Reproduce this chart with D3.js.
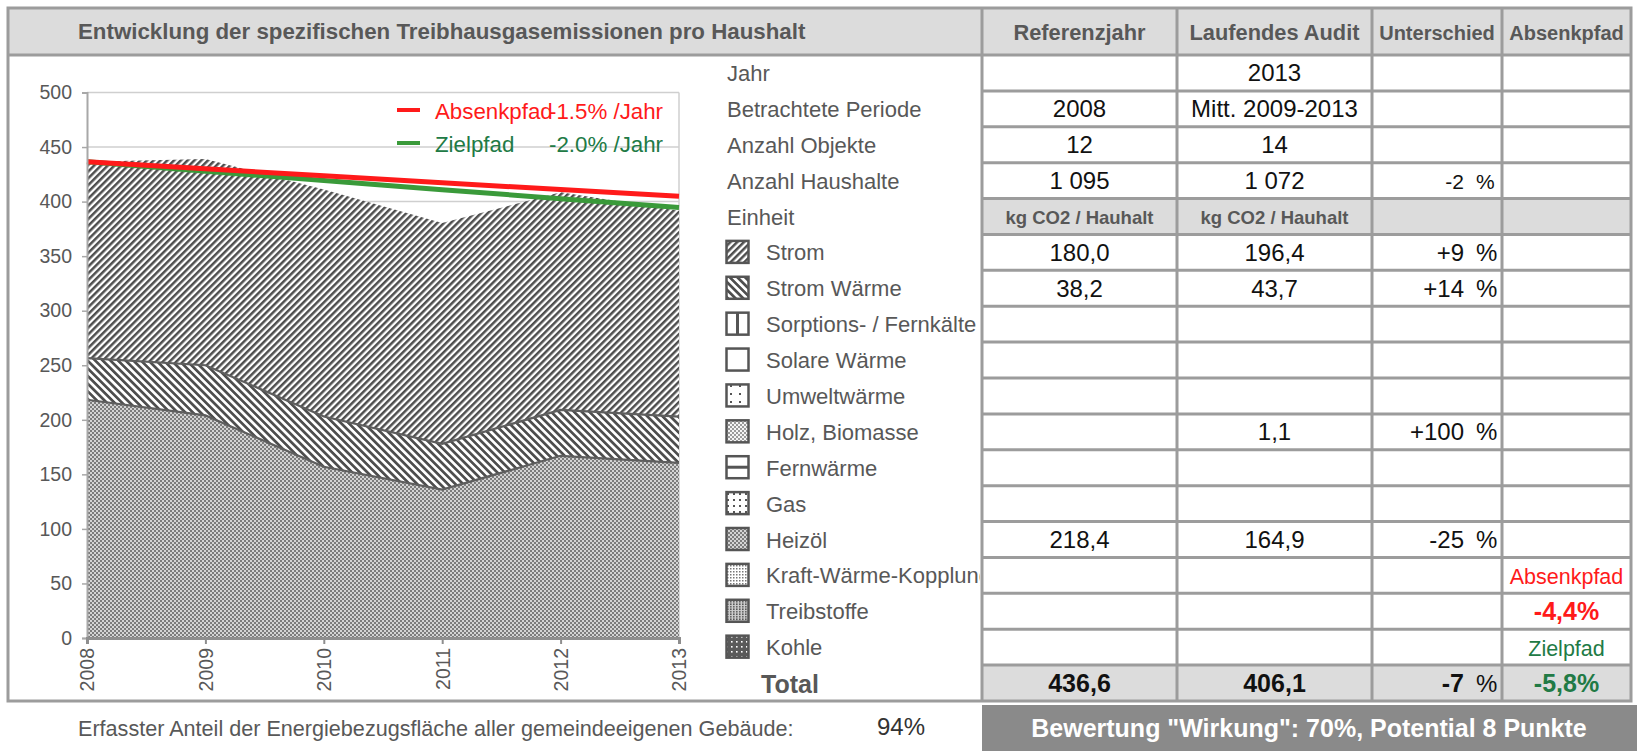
<!DOCTYPE html>
<html><head><meta charset="utf-8">
<script src="https://cdn.jsdelivr.net/npm/d3@7"></script>
<style>
body{margin:0;background:#fff}
svg{display:block}
text{font-family:"Liberation Sans",Arial,sans-serif}
</style>
</head><body>
<svg id="c" width="1637" height="751"></svg>
<script>
// ---------- data ----------
const years = [2008, 2009, 2010, 2011, 2012, 2013];
const heizoel = [218.4, 204, 157, 136, 167, 160.5];
const stromWaerme = [38.2, 46, 46, 42, 42, 42.5];
const strom = [180.0, 189, 208, 202.5, 199.5, 188.5];
const absenkpfad = [436.6, 430.1, 423.6, 417.3, 411.0, 404.8];
const zielpfad = [436.6, 427.9, 419.3, 410.9, 402.7, 394.6];
const yTicks = [0, 50, 100, 150, 200, 250, 300, 350, 400, 450, 500];

const title = "Entwicklung der spezifischen Treibhausgasemissionen pro Haushalt";
const headers = ["Referenzjahr", "Laufendes Audit", "Unterschied", "Absenkpfad"];
const rowLabels = ["Jahr", "Betrachtete Periode", "Anzahl Objekte", "Anzahl Haushalte", "Einheit",
  "Strom", "Strom Wärme", "Sorptions- / Fernkälte", "Solare Wärme", "Umweltwärme", "Holz, Biomasse",
  "Fernwärme", "Gas", "Heizöl", "Kraft-Wärme-Kopplung", "Treibstoffe", "Kohle", "Total"];
const iconKeys = [null, null, null, null, null,
  "strom", "sw", "sorp", "solar", "umwelt", "holz", "fern", "gas", "heiz", "kwk", "treib", "kohle", null];
const refCol = ["", "2008", "12", "1 095", "kg CO2 / Hauhalt", "180,0", "38,2", "", "", "", "", "", "", "218,4", "", "", "", "436,6"];
const auditCol = ["2013", "Mitt. 2009-2013", "14", "1 072", "kg CO2 / Hauhalt", "196,4", "43,7", "", "", "", "1,1", "", "", "164,9", "", "", "", "406,1"];
const diffCol = ["", "", "", "-2", "", "+9", "+14", "", "", "", "+100", "", "", "-25", "", "", "", "-7"];
const pathCol = ["", "", "", "", "", "", "", "", "", "", "", "", "", "", "Absenkpfad", "-4,4%", "Zielpfad", "-5,8%"];
const legendNames = ["Absenkpfad", "Zielpfad"];
const legendRates = ["-1.5% /Jahr", "-2.0% /Jahr"];
const footText = "Erfasster Anteil der Energiebezugsfläche aller gemeindeeigenen Gebäude:";
const footPct = "94%";
const ratingText = 'Bewertung "Wirkung": 70%, Potential 8 Punkte';

// ---------- layout ----------
const svg = d3.select("#c");
const OX0 = 8, OY0 = 8, OX1 = 1631, OY1 = 701;
const colX = [982, 1177, 1372, 1502, 1631];
const headB = 55;
const nRows = rowLabels.length;
const rowH = (OY1 - headB) / nRows;
const rowTop = i => headB + i * rowH;
const LINE = "#9c9c9c", LW = 3;
const RED = "#ff1a1a", GREEN_T = "#217a45", GREEN_L = "#3a9a3a";
const GRAYTXT = "#585858";

const defs = svg.append("defs");
function stripe(id, angle, period, w, col) {
  const p = defs.append("pattern").attr("id", id).attr("patternUnits", "userSpaceOnUse")
    .attr("width", period).attr("height", period).attr("patternTransform", `rotate(${angle})`);
  p.append("rect").attr("width", period).attr("height", period).attr("fill", "#fff");
  p.append("rect").attr("width", w).attr("height", period).attr("fill", col);
}
stripe("pStrom", 45, 4.8, 2.5, "#4e4e4e");
stripe("pSW", -45, 5.4, 2.7, "#4e4e4e");
function checker(id, c, dark, light) {
  const p = defs.append("pattern").attr("id", id).attr("patternUnits", "userSpaceOnUse")
    .attr("width", 2 * c).attr("height", 2 * c);
  p.append("rect").attr("width", 2 * c).attr("height", 2 * c).attr("fill", light);
  p.append("rect").attr("width", c).attr("height", c).attr("fill", dark);
  p.append("rect").attr("x", c).attr("y", c).attr("width", c).attr("height", c).attr("fill", dark);
}
checker("pHeiz", 2, "#7c7c7c", "#d4d4d4");
checker("pHolz", 2, "#9a9a9a", "#f4f4f4");
function dots(id, px, py, r, dot, bg) {
  const p = defs.append("pattern").attr("id", id).attr("patternUnits", "userSpaceOnUse")
    .attr("width", px).attr("height", py);
  p.append("rect").attr("width", px).attr("height", py).attr("fill", bg);
  p.append("rect").attr("x", 1).attr("y", 1).attr("width", r).attr("height", r).attr("fill", dot);
}
dots("pUmwelt", 9, 8, 2, "#555", "#fff");
dots("pGas", 6, 6, 2, "#555", "#fff");
dots("pKwk", 3, 3, 1.5, "#777", "#fff");
dots("pTreib", 3, 2.5, 1.6, "#555", "#ccc");
dots("pKohle", 5, 5, 1.6, "#fff", "#5a5a5a");

// ---------- backgrounds ----------
svg.append("rect").attr("x", OX0).attr("y", OY0).attr("width", OX1 - OX0).attr("height", headB - OY0).attr("fill", "#dcdcdc");
[4, 17].forEach(r => {
  svg.append("rect").attr("x", colX[0]).attr("y", rowTop(r)).attr("width", colX[4] - colX[0]).attr("height", rowH).attr("fill", "#dcdcdc");
});

// ---------- chart ----------
const x = d3.scalePoint().domain(years).range([87, 679]);
const y = d3.scaleLinear().domain([0, 500]).range([638, 92.5]);
const plot = svg.append("g");
plot.selectAll("line.grid").data(yTicks.filter(v => v > 0)).join("line")
  .attr("x1", x(years[0])).attr("x2", x(years[5])).attr("y1", d => y(d)).attr("y2", d => y(d))
  .attr("stroke", "#cfcfcf").attr("stroke-width", 1.5);
plot.append("line").attr("x1", x(years[5])).attr("x2", x(years[5])).attr("y1", y(500)).attr("y2", y(0))
  .attr("stroke", "#cfcfcf").attr("stroke-width", 1.5);

const rows = years.map((yr, i) => ({ year: yr, heiz: heizoel[i], sw: stromWaerme[i], strom: strom[i] }));
const stack = d3.stack().keys(["heiz", "sw", "strom"]);
const series = stack(rows);
const fills = { heiz: "url(#pHeiz)", sw: "url(#pSW)", strom: "url(#pStrom)" };
const area = d3.area().x(d => x(d.data.year)).y0(d => y(d[0])).y1(d => y(d[1]));
plot.selectAll("path.area").data(series).join("path")
  .attr("d", area).attr("fill", d => fills[d.key]);
const topLine = d3.line().x(d => x(d.data.year)).y(d => y(d[1]));
plot.selectAll("path.edge").data(series.slice(0, 2)).join("path")
  .attr("d", topLine).attr("fill", "none").attr("stroke", "#5e5e5e").attr("stroke-width", 2.2);

const pl = d3.line().x((d, i) => x(years[i])).y(d => y(d));
plot.append("path").attr("d", pl(zielpfad)).attr("fill", "none").attr("stroke", GREEN_L).attr("stroke-width", 5);
plot.append("path").attr("d", pl(absenkpfad)).attr("fill", "none").attr("stroke", RED).attr("stroke-width", 5);

// axes
const yAxis = plot.append("g").attr("transform", `translate(${x(years[0])},0)`)
  .call(d3.axisLeft(y).tickValues(yTicks).tickSize(5).tickPadding(10));
yAxis.select(".domain").attr("stroke", "#a8a8a8").attr("stroke-width", 2);
yAxis.selectAll(".tick line").attr("stroke", "#a8a8a8").attr("stroke-width", 1.5);
yAxis.selectAll(".tick text").attr("font-size", 19.5).attr("fill", GRAYTXT)
  .attr("font-family", '"Liberation Sans",Arial,sans-serif');
const xAxis = plot.append("g").attr("transform", `translate(0,${y(0)})`)
  .call(d3.axisBottom(x).tickSize(6).tickFormat(d3.format("d")));
xAxis.select(".domain").attr("stroke", "#8e8e8e").attr("stroke-width", 3);
xAxis.selectAll(".tick line").attr("stroke", "#8e8e8e").attr("stroke-width", 2);
xAxis.selectAll(".tick text").attr("font-size", 19.5).attr("fill", GRAYTXT)
  .attr("font-family", '"Liberation Sans",Arial,sans-serif')
  .attr("text-anchor", "end").attr("transform", "rotate(-90)")
  .attr("x", -10).attr("y", 0).attr("dy", "0.35em");

// legend
const lg = svg.append("g");
legendNames.forEach((n, i) => {
  const ly = 110 + i * 33;
  const col = i === 0 ? RED : GREEN_L;
  const tcol = i === 0 ? RED : GREEN_T;
  lg.append("line").attr("x1", 397).attr("x2", 420).attr("y1", ly).attr("y2", ly).attr("stroke", col).attr("stroke-width", 4);
  lg.append("text").attr("x", 435).attr("y", ly + 9).attr("font-size", 22.3).attr("fill", tcol).text(n);
  lg.append("text").attr("x", 549).attr("y", ly + 9).attr("font-size", 22.3).attr("fill", tcol).text(legendRates[i]);
});

// ---------- title & headers ----------
svg.append("text").attr("x", 78).attr("y", 39).attr("font-size", 22.3).attr("font-weight", "bold")
  .attr("fill", GRAYTXT).text(title);
headers.forEach((h, i) => {
  svg.append("text").attr("x", (colX[i] + colX[i + 1]) / 2).attr("y", 40)
    .attr("text-anchor", "middle").attr("font-weight", "bold").attr("fill", GRAYTXT)
    .attr("font-size", i < 2 ? 21.8 : 20).text(h);
});

// ---------- row labels & icons ----------
svg.append("clipPath").attr("id", "labClip").append("rect").attr("x", 0).attr("y", 0).attr("width", 980).attr("height", 751);
const lab = svg.append("g").attr("clip-path", "url(#labClip)");
const iconFill = { strom: "url(#pStrom)", sw: "url(#pSW)", sorp: "#fff", solar: "#fff", umwelt: "url(#pUmwelt)",
  holz: "url(#pHolz)", fern: "#fff", gas: "url(#pGas)", heiz: "url(#pHeiz)", kwk: "url(#pKwk)", treib: "url(#pTreib)", kohle: "url(#pKohle)" };
rowLabels.forEach((t, i) => {
  const cy = rowTop(i) + rowH / 2;
  const k = iconKeys[i];
  if (t === "Total") {
    lab.append("text").attr("x", 761).attr("y", cy + 9.5).attr("font-size", 25).attr("font-weight", "bold").attr("fill", GRAYTXT).text(t);
    return;
  }
  if (k) {
    const g = lab.append("g");
    const ix = 726.5, iy = cy - 11.5, s = 22;
    g.append("rect").attr("x", ix).attr("y", iy).attr("width", s).attr("height", s).attr("fill", iconFill[k])
      .attr("stroke", "#555").attr("stroke-width", 2.5);
    if (k === "sorp") g.append("line").attr("x1", ix + s / 2).attr("x2", ix + s / 2).attr("y1", iy).attr("y2", iy + s).attr("stroke", "#555").attr("stroke-width", 3);
    if (k === "fern") g.append("line").attr("y1", iy + s / 2).attr("y2", iy + s / 2).attr("x1", ix).attr("x2", ix + s).attr("stroke", "#555").attr("stroke-width", 3);
  }
  lab.append("text").attr("x", k ? 766 : 727).attr("y", cy + 8).attr("font-size", 22).attr("fill", GRAYTXT).text(t);
});

// ---------- table cells ----------
function cellText(col, arr) {
  arr.forEach((t, i) => {
    if (!t) return;
    const cy = rowTop(i) + rowH / 2;
    const unit = i === 4;
    const tot = i === 17;
    svg.append("text").attr("x", (colX[col] + colX[col + 1]) / 2).attr("y", cy + (unit ? 7 : 8.5))
      .attr("text-anchor", "middle")
      .attr("font-size", unit ? 18.5 : (tot ? 25 : 24))
      .attr("font-weight", unit || tot ? "bold" : "normal")
      .attr("fill", unit ? GRAYTXT : "#111").text(t);
  });
}
cellText(0, refCol);
cellText(1, auditCol);
diffCol.forEach((t, i) => {
  if (!t) return;
  const cy = rowTop(i) + rowH / 2;
  const small = i === 3, tot = i === 17;
  const fs = small ? 21 : (tot ? 25 : 24);
  const fw = tot ? "bold" : "normal";
  svg.append("text").attr("x", 1464).attr("y", cy + 8.5).attr("text-anchor", "end").attr("font-size", fs).attr("font-weight", fw).attr("fill", "#111").text(t);
  svg.append("text").attr("x", 1476).attr("y", cy + 8.5).attr("font-size", small ? 21 : 24).attr("font-weight", "normal").attr("fill", "#111").text("%");
});
pathCol.forEach((t, i) => {
  if (!t) return;
  const cy = rowTop(i) + rowH / 2;
  const isNum = /%/.test(t);
  const col = (i <= 15) ? RED : GREEN_T;
  svg.append("text").attr("x", (colX[3] + colX[4]) / 2).attr("y", cy + 8.5).attr("text-anchor", "middle")
    .attr("font-size", isNum ? 25 : 21.5).attr("font-weight", isNum ? "bold" : "normal").attr("fill", col).text(t);
});

// ---------- grid lines ----------
const gl = svg.append("g").attr("stroke", LINE).attr("stroke-width", LW).attr("fill", "none");
gl.append("rect").attr("x", OX0).attr("y", OY0).attr("width", OX1 - OX0).attr("height", OY1 - OY0);
gl.append("line").attr("x1", OX0).attr("x2", OX1).attr("y1", headB).attr("y2", headB);
colX.slice(0, 4).forEach(cx => gl.append("line").attr("x1", cx).attr("x2", cx).attr("y1", OY0).attr("y2", OY1));
d3.range(1, nRows).forEach(i => gl.append("line").attr("x1", colX[0]).attr("x2", OX1).attr("y1", rowTop(i)).attr("y2", rowTop(i)));

// ---------- footer ----------
svg.append("text").attr("x", 78).attr("y", 736).attr("font-size", 21.6).attr("fill", GRAYTXT).text(footText);
svg.append("text").attr("x", 877).attr("y", 735).attr("font-size", 24).attr("fill", "#333").text(footPct);
svg.append("rect").attr("x", colX[0]).attr("y", 705).attr("width", 1637 - colX[0]).attr("height", 46).attr("fill", "#8a8a8a");
svg.append("text").attr("x", 1309).attr("y", 737).attr("text-anchor", "middle").attr("font-size", 25)
  .attr("font-weight", "bold").attr("fill", "#fff").text(ratingText);
</script>
</body></html>
